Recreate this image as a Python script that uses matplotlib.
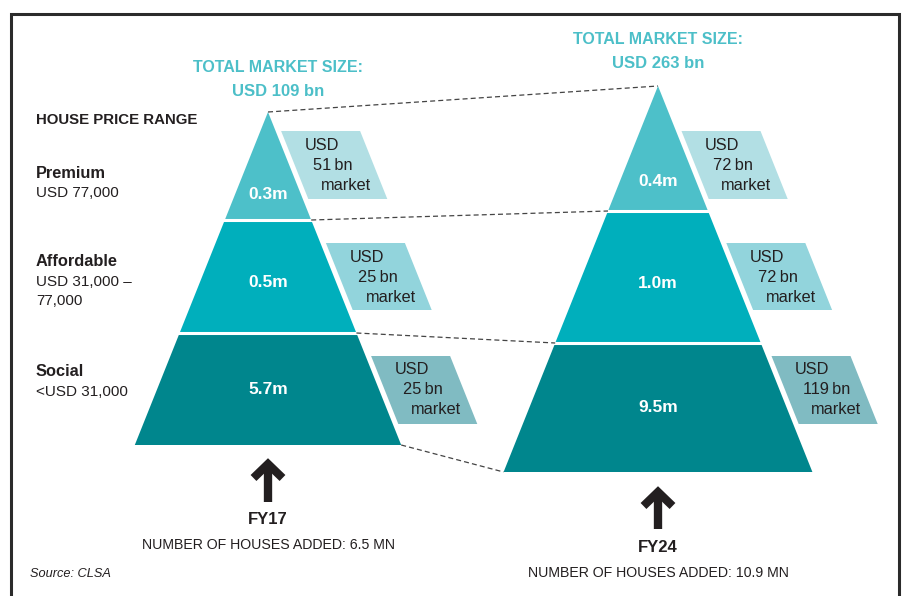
import matplotlib
matplotlib.use("Agg")
import matplotlib.pyplot as plt
from matplotlib.patches import Polygon

# ---- data ----
years = ["FY17", "FY24"]
total_market_bn = [109, 263]
houses_added_mn = [6.5, 10.9]
segments = ["Premium", "Affordable", "Social"]
price_ranges = ["USD 77,000", "USD 31,000 –\n77,000", "<USD 31,000"]
houses_m = [[0.3, 0.5, 5.7], [0.4, 1.0, 9.5]]
market_bn = [[51, 25, 25], [72, 72, 119]]

# ---- styling / layout ----
band_colors = ["#4dc0c9", "#00afbc", "#00868d"]
box_colors = ["#b2dfe4", "#92d4dc", "#80bbc2"]
teal_text = "#4cbfc8"
dark = "#231f20"
plt.rcParams["font.family"] = ["Liberation Sans", "DejaVu Sans"]

# pyramid layout in pixel coords: centre x, band cut ys (apex -> base)
pyr = [
    dict(cx=268, ys=[112, 220, 333, 445], title_y=(68, 92), arrow=(459, 502), lab_y=(520, 545)),
    dict(cx=658, ys=[86, 211, 343, 472], title_y=(40, 63), arrow=(487, 529), lab_y=(547, 573)),
]
slope = 0.40            # half-width per px of height
label_frac = [0.76, 0.55, 0.50]
box_rows = [(131, 199), (243, 310), (356, 424)]
box_w = 79
box_gap = 5.5

fig = plt.figure(figsize=(9.02, 5.96), dpi=100)
ax = fig.add_axes([0, 0, 1, 1])
ax.set_xlim(0, 902)
ax.set_ylim(596, 0)
ax.axis("off")

# outer frame (bottom edge cut off)
ax.plot([10.5, 10.5, 898.5, 898.5], [600, 13.5, 13.5, 600], color="#2b2b2b", lw=2.2,
        solid_joinstyle="miter")

for k, p in enumerate(pyr):
    cx, ys = p["cx"], p["ys"]
    apex = ys[0]

    def half(y):
        return (y - apex) * slope

    # bands
    for i in range(3):
        y0, y1 = ys[i], ys[i + 1]
        pts = [(cx - half(y0), y0), (cx + half(y0), y0), (cx + half(y1), y1), (cx - half(y1), y1)]
        ax.add_patch(Polygon(pts, closed=True, facecolor=band_colors[i], edgecolor="none"))
        ax.text(cx, y0 + (y1 - y0) * label_frac[i], f"{houses_m[k][i]:.1f}m", color="white",
                fontsize=12.5, fontweight="bold", ha="center", va="center")
    # white separators
    for y in ys[1:3]:
        ax.plot([cx - half(y) - 3, cx + half(y) + 3], [y, y], color="white", lw=2.2)

    # market size parallelograms
    for i, (t, b) in enumerate(box_rows):
        lt = cx + half(t) + box_gap
        lb = cx + half(b) + box_gap
        ax.add_patch(Polygon([(lt, t), (lt + box_w, t), (lb + box_w, b), (lb, b)],
                             closed=True, facecolor=box_colors[i], edgecolor="none"))
        lines = ["USD", f"{market_bn[k][i]}\u2009bn", "market"]
        for j, s in enumerate(lines):
            y = t + 14 + 20 * j
            x = cx + half(y) + box_gap + 18
            ax.text(x, y, s, color=dark, fontsize=11.8, ha="left", va="center")

    # title
    tx = cx + (10 if k == 0 else 0)
    ax.text(tx, p["title_y"][0], "TOTAL MARKET SIZE:", color=teal_text,
            fontsize=11.5, fontweight="bold", ha="center", va="center")
    ax.text(tx, p["title_y"][1], f"USD {total_market_bn[k]} bn",
            color=teal_text, fontsize=12, fontweight="bold", ha="center", va="center")

    # arrow
    top, bot = p["arrow"]
    ax.plot([cx, cx], [top + 6, bot], color=dark, lw=6, solid_capstyle="butt")
    ax.plot([cx - 14.5, cx, cx + 14.5], [top + 19, top + 5, top + 19], color=dark, lw=6,
            solid_joinstyle="miter", solid_capstyle="butt")

    ax.text(cx, p["lab_y"][0], years[k], color=dark, fontsize=12, fontweight="bold",
            ha="center", va="center")
    ax.text(cx, p["lab_y"][1], f"NUMBER OF HOUSES ADDED: {houses_added_mn[k]} MN", color=dark,
            fontsize=10.2, ha="center", va="center")

# dashed connectors between the pyramids
for i in range(4):
    a, b = pyr[0], pyr[1]
    ya, yb = a["ys"][i], b["ys"][i]
    xa = a["cx"] + (ya - a["ys"][0]) * slope
    xb = b["cx"] - (yb - b["ys"][0]) * slope
    ax.plot([xa, xb], [ya, yb], color="#444444", lw=0.9, ls=(0, (4, 2.5)))

# left-hand labels
ax.text(36, 120, "HOUSE PRICE RANGE", color=dark, fontsize=10.8, fontweight="bold",
        ha="left", va="center")
seg_y = [173, 262, 372]
for name, rng, y in zip(segments, price_ranges, seg_y):
    ax.text(36, y, name, color=dark, fontsize=11.8, fontweight="bold", ha="left", va="center")
    ax.text(36, y + 13, rng, color=dark, fontsize=11, ha="left", va="top", linespacing=1.45)

ax.text(30, 574, "Source: CLSA", color=dark, fontsize=9.2, style="italic", ha="left", va="center")

fig.savefig("out.png", dpi=100)
